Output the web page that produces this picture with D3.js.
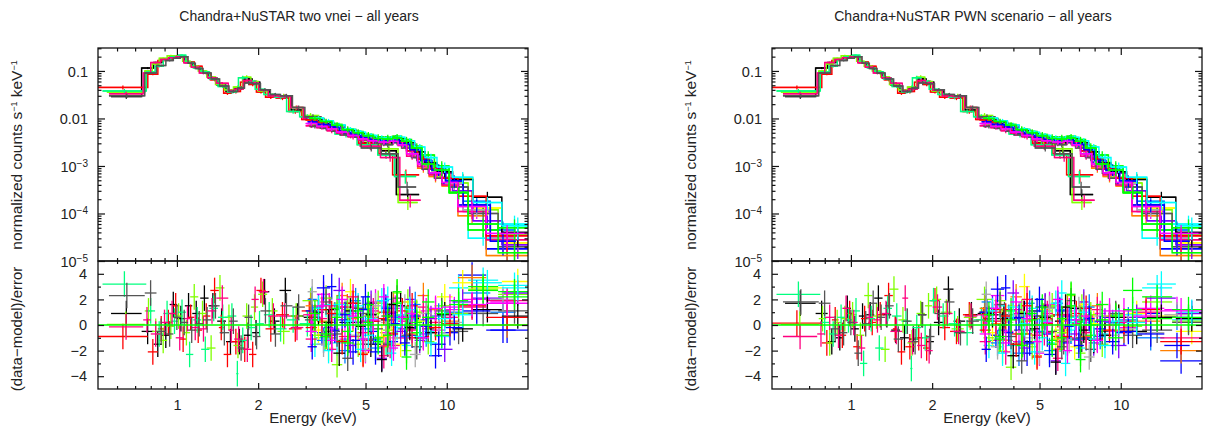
<!DOCTYPE html>
<html>
  <head>
    <meta charset="utf-8" />
    <script src="https://cdn.jsdelivr.net/npm/d3@7"></script>
    <style>
      html, body { margin: 0; background: #fff; }
      text { font-family: "Liberation Sans", Arial, sans-serif; fill: #222; }
    </style>
  </head>

  <body>
    <div id="container"></div>
  </body>
  <script>
    const titles = ["Chandra+NuSTAR two vnei \u2212 all years", "Chandra+NuSTAR PWN scenario \u2212 all years"];
    const xMajor = [1, 2, 5, 10];
    const xMinor = [0.6, 0.7, 0.8, 0.9, 3, 4, 6, 7, 8, 9];
    const fluxMajor = [0.1, 0.01, 1e-3, 1e-4, 1e-5];
    const fluxLabels = ["0.1", "0.01", "-3", "-4", "-5"];
    const resMajor = [-4, -2, 0, 2, 4];
    const resMinor = [-3, -1, 1, 3];

    const chandraColors = ["#000000", "#ff0000", "#7fff00", "#00ff7f", "#ff007f", "#555555"];
    const chandraEdges = [
      [0.57, 0.74, 0.82, 0.88, 0.94, 1.0, 1.07, 1.14, 1.22, 1.31, 1.41, 1.52, 1.64, 1.77, 1.9, 2.03, 2.2, 2.4, 2.65, 2.95, 3.4, 4.0, 4.8, 5.7, 6.5, 7.9],
      [0.51, 0.78, 0.85, 0.9, 0.96, 1.02, 1.09, 1.16, 1.24, 1.33, 1.43, 1.49, 1.59, 1.72, 1.85, 1.97, 2.13, 2.33, 2.6, 2.9, 3.3, 3.9, 4.7, 5.6, 6.3, 7.9],
      [0.55, 0.76, 0.81, 0.86, 0.92, 0.98, 1.05, 1.12, 1.2, 1.29, 1.39, 1.5, 1.62, 1.75, 1.88, 2.0, 2.16, 2.36, 2.62, 2.92, 3.35, 3.95, 4.75, 5.65, 6.6, 7.8],
      [0.53, 0.77, 0.83, 0.89, 0.95, 1.01, 1.08, 1.15, 1.23, 1.32, 1.42, 1.54, 1.66, 1.69, 1.82, 1.95, 2.1, 2.3, 2.55, 2.85, 3.25, 3.85, 4.65, 5.55, 6.4, 7.7],
      [0.56, 0.75, 0.8, 0.87, 0.93, 0.99, 1.06, 1.13, 1.21, 1.3, 1.4, 1.55, 1.63, 1.76, 1.89, 2.01, 2.18, 2.38, 2.64, 2.94, 3.38, 3.98, 4.78, 5.68, 6.7, 8.0],
      [0.56, 0.76, 0.84, 0.91, 0.97, 1.03, 1.1, 1.17, 1.25, 1.34, 1.44, 1.56, 1.68, 1.78, 1.91, 2.04, 2.22, 2.42, 2.68, 2.98, 3.42, 4.02, 4.82, 5.72, 6.6, 7.7],
    ];
    const chandraFlux = [
      [0.029, 0.115, 0.15, 0.18, 0.195, 0.21, 0.15, 0.12, 0.095, 0.07, 0.05, 0.037, 0.043, 0.068, 0.058, 0.04, 0.031, 0.029, 0.015, 0.0105, 0.0075, 0.0052, 0.0031, 0.0021, 0.00025],
      [0.045, 0.085, 0.165, 0.17, 0.2, 0.2, 0.155, 0.125, 0.09, 0.065, 0.054, 0.034, 0.037, 0.058, 0.052, 0.036, 0.028, 0.027, 0.014, 0.0095, 0.0066, 0.0048, 0.003, 0.0018, 0.00065],
      [0.036, 0.1, 0.14, 0.185, 0.21, 0.205, 0.16, 0.125, 0.1, 0.075, 0.052, 0.04, 0.046, 0.074, 0.06, 0.038, 0.031, 0.03, 0.017, 0.0115, 0.0078, 0.0054, 0.0034, 0.0023, 0.00017],
      [0.038, 0.095, 0.125, 0.17, 0.2, 0.215, 0.15, 0.115, 0.095, 0.068, 0.047, 0.036, 0.04, 0.072, 0.061, 0.041, 0.032, 0.028, 0.014, 0.0108, 0.007, 0.0047, 0.0028, 0.0017, 0.0006],
      [0.033, 0.09, 0.15, 0.175, 0.19, 0.2, 0.148, 0.12, 0.09, 0.072, 0.055, 0.038, 0.041, 0.063, 0.056, 0.039, 0.03, 0.029, 0.017, 0.01, 0.0068, 0.0049, 0.0026, 0.0015, 0.00019],
      [0.03, 0.09, 0.13, 0.165, 0.185, 0.2, 0.145, 0.112, 0.09, 0.068, 0.048, 0.037, 0.044, 0.056, 0.054, 0.04, 0.032, 0.03, 0.017, 0.0108, 0.0073, 0.0045, 0.0024, 0.0018, 0.00036],
    ];
    const chandraResL = [
      [0.9, -0.5, -1.5, -0.8, 1.6, 0.5, 1.5, 0.9, 2.1, 1.5, 0.3, -1.3, -1.3, -0.8, -0.6, 2.6, 0.3, 2.7, 0.7, 0.6, 1.2, 0.2, -1.5, 0.4, 0.5],
      [-0.9, -2.1, -0.3, 0.2, 1.5, -1.1, 0.6, -0.4, 0.7, 2.7, -0.2, -2.3, -1.3, -1.9, -2.3, 2.7, -0.3, 0.8, -0.3, 1.1, -0.8, 1.4, -1.2, 0.5, -1.0],
      [0.05, 1.1, -0.5, -1.2, -0.1, 0.7, -0.6, 2.2, 0.9, -1.8, 2.9, 0.6, -1.6, 0.7, 1.4, 2.4, 1.1, -0.5, 0.7, 1.9, 0.2, -1.2, 0.9, -0.6, 1.8],
      [3.2, 1.1, -0.7, 0.9, 0.3, 1.0, -2.3, 0.4, -1.9, 1.3, 0.6, 0.7, -3.8, -1.2, -0.2, 0.1, 0.8, -0.3, 0.4, 0.1, -1.0, 0.9, 1.3, -1.4, 0.5],
      [-0.15, 0.4, -0.7, 0.2, 0.9, -1.0, 0.5, -0.2, -0.3, 1.1, 2.1, -0.4, -1.1, -1.9, 2.0, 2.6, 0.7, 0.7, -0.2, 0.8, 1.5, -0.9, 0.3, -1.6, 0.6],
      [2.3, 2.5, -0.5, -0.7, 0.6, 0.2, -0.4, 0.1, 0.4, 1.5, -0.6, 0.3, -1.8, 0.6, -0.9, 1.1, -0.7, 1.5, 1.4, 0.4, -0.5, 1.7, -1.1, 0.7, -0.3],
    ];
    const chandraResR = [
      [1.7, 0.9, -1.3, -1.0, 1.3, -0.3, 0.7, 0.8, 2.1, 0.8, -0.4, -1.0, -1.1, 0.8, -1.3, 0.2, 2.8, 0.3, 0.8, 0.9, 0.5, -1.3, 0.7, 0.3, -1.1],
      [0.15, -1.4, 0.4, -0.8, 0.9, -1.7, 0.5, 0.2, 0.8, 2.3, -0.3, -2.1, -1.7, -1.0, -1.8, 1.9, -0.2, -0.5, 0.8, 0.4, 1.2, -0.7, 0.5, -0.9, 0.7],
      [0.05, 0.5, -1.4, 0.2, 0.5, 0.8, -0.8, 2.3, 0.7, -1.9, 2.8, 0.4, -1.4, 0.9, 1.5, 2.0, 1.0, -0.3, 0.6, 2.0, 0.3, -1.5, 0.7, -0.4, 1.4],
      [2.4, 0.2, -0.7, 0.6, 0.4, 1.1, -3.0, 0.5, -1.8, 1.3, 0.7, 0.3, -3.4, -0.2, -1.0, 1.9, 0.7, 0.1, -0.6, 0.4, -1.2, 0.8, 1.1, -1.1, 0.2],
      [-0.9, -0.7, 0.6, -0.8, 1.3, 0.2, -1.8, 0.6, 0.4, 0.9, -0.5, 2.1, -1.3, -1.6, -2.0, 1.4, 0.9, -0.5, 0.7, 0.8, -1.2, 0.9, -0.6, -1.0, 0.4],
      [1.8, 1.7, -0.3, -0.6, 0.2, -2.2, 0.1, 1.7, 0.6, 1.5, -1.1, 0.3, -1.3, 0.8, -0.9, 0.9, 1.8, -0.6, 0.3, 1.0, 0.8, -0.4, 1.4, -1.3, 0.4],
    ];
    const chandraRelErr = [0.1, 0.05, 0.05, 0.04, 0.04, 0.04, 0.05, 0.06, 0.06, 0.07, 0.07, 0.08, 0.09, 0.1, 0.08, 0.07, 0.08, 0.1, 0.1, 0.13, 0.15, 0.15, 0.16, 0.18, 0.3];

    const nustarColors = ["#0000ff", "#00ffff", "#ff00ff", "#ffff00", "#ff7f00", "#7fff00", "#007fff", "#7f00ff", "#ff007f", "#555555", "#aaaaaa", "#000000", "#ff0000", "#00ff00", "#0000ff", "#00ffff", "#ff00ff", "#00ff00"];
    const nustarEdges = [
      [3.0, 3.3, 3.6, 3.9, 4.3, 4.7, 5.1, 5.6, 6.1, 6.6, 7.1, 7.8, 8.6, 9.6, 11, 14, 20],
      [3.1, 3.4, 3.75, 4.1, 4.5, 4.9, 5.35, 5.8, 6.3, 6.8, 7.4, 8.1, 9.0, 10.2, 12, 15.5, 20.5],
      [3.05, 3.3, 3.7, 4.0, 4.4, 4.8, 5.2, 5.7, 6.2, 6.7, 7.3, 8.0, 8.8, 9.9, 11.5, 14.5, 18],
      [3.2, 3.5, 3.8, 4.2, 4.6, 5.0, 5.5, 6.0, 6.5, 7.0, 7.6, 8.3, 9.2, 10.5, 12.5, 16, 21],
    ];
    const nustarFlux = [
      [0.0095, 0.0082, 0.0066, 0.0058, 0.0049, 0.0041, 0.0037, 0.0034, 0.0037, 0.0031, 0.0021, 0.0012, 0.00072, 0.00042, 0.00015, 1.8e-5],
      [0.0098, 0.0084, 0.0072, 0.0056, 0.0051, 0.0044, 0.0038, 0.0037, 0.0039, 0.0029, 0.0022, 0.0015, 0.00092, 0.00036, 3.0e-5, 6e-5],
      [0.0072, 0.0065, 0.006, 0.0052, 0.0044, 0.0039, 0.0033, 0.0033, 0.0035, 0.0031, 0.0017, 0.00105, 0.0008, 0.00042, 0.00011, 3.2e-5],
      [0.0101, 0.0083, 0.0064, 0.0059, 0.0045, 0.004, 0.0035, 0.0038, 0.0033, 0.0027, 0.002, 0.0012, 0.00075, 0.00055, 0.00013, 2.4e-5],
      [0.0092, 0.0076, 0.0071, 0.0055, 0.0048, 0.0037, 0.0036, 0.0034, 0.0039, 0.003, 0.0018, 0.0009, 0.0006, 0.00038, 9e-5, 1.3e-5],
      [0.0075, 0.0069, 0.0057, 0.005, 0.0046, 0.0036, 0.0032, 0.003, 0.0033, 0.0026, 0.0016, 0.001, 0.00058, 0.00044, 0.00012, 3.6e-5],
      [0.0097, 0.0088, 0.0074, 0.006, 0.0052, 0.0044, 0.004, 0.0038, 0.004, 0.0034, 0.0024, 0.0013, 0.00088, 0.0005, 0.00018, 4.5e-5],
      [0.0082, 0.0072, 0.0064, 0.0053, 0.0045, 0.0038, 0.0034, 0.0032, 0.0035, 0.0028, 0.0017, 0.0011, 0.0007, 0.0003, 7e-5, 2.2e-5],
      [0.007, 0.0064, 0.0055, 0.0049, 0.0041, 0.0035, 0.0033, 0.003, 0.0032, 0.0027, 0.0016, 0.00098, 0.00065, 0.0004, 0.00011, 2.8e-5],
      [0.0068, 0.0062, 0.0054, 0.0047, 0.004, 0.0036, 0.0031, 0.0028, 0.0031, 0.0024, 0.0015, 0.00085, 0.00055, 0.00036, 0.0001, 2.0e-5],
      [0.0096, 0.0083, 0.0068, 0.0056, 0.0047, 0.004, 0.0036, 0.0035, 0.0036, 0.003, 0.0019, 0.0012, 0.00078, 0.00043, 0.00012, 3.0e-5],
      [0.0099, 0.0085, 0.0071, 0.0057, 0.0049, 0.0042, 0.0037, 0.0034, 0.0037, 0.0031, 0.002, 0.00115, 0.00076, 0.00052, 0.00022, 4e-5],
      [0.0094, 0.0084, 0.0065, 0.0055, 0.0046, 0.004, 0.0038, 0.0036, 0.0038, 0.0032, 0.0021, 0.0014, 0.00088, 0.00055, 0.00023, 3.4e-5],
      [0.0103, 0.009, 0.0075, 0.0061, 0.0053, 0.0046, 0.0041, 0.004, 0.0042, 0.0036, 0.0026, 0.0017, 0.001, 0.00027, 4.5e-5, 5e-5],
      [0.0085, 0.0075, 0.0066, 0.0054, 0.0047, 0.004, 0.0036, 0.0033, 0.0035, 0.0029, 0.0022, 0.0013, 0.00082, 0.00048, 0.00015, 2.6e-5],
      [0.0102, 0.0089, 0.0073, 0.0059, 0.0051, 0.0044, 0.0039, 0.0038, 0.004, 0.0034, 0.0025, 0.0015, 0.00095, 0.00058, 0.00017, 5.5e-5],
      [0.0078, 0.0068, 0.0061, 0.0052, 0.0044, 0.0037, 0.0034, 0.0032, 0.0033, 0.0028, 0.0018, 0.0011, 0.00072, 0.00045, 0.00014, 3.8e-5],
      [0.01, 0.0086, 0.0072, 0.0058, 0.005, 0.0043, 0.0038, 0.0037, 0.0039, 0.0033, 0.0024, 0.0011, 0.00082, 0.00028, 6e-5, 1.5e-5],
    ];
    const nustarResL = [
      [1.1, -0.6, 3.0, 0.4, -2.1, 1.2, -0.5, 1.9, -1.3, 0.7, -0.8, 0.4, -2.4, -0.6, 3.9, -0.4],
      [-1.5, 1.6, -1.4, 0.6, 1.5, -0.8, -1.2, 2.0, -0.2, -1.6, 0.4, -0.5, -0.9, 2.9, 3.5, 3.1],
      [0.8, 2.4, -0.3, -1.1, 0.9, -2.0, 1.8, -0.6, 1.3, -1.0, 0.8, 1.1, -0.4, 1.2, 2.0, 1.8],
      [-0.4, -1.8, 1.7, 2.6, -0.6, 1.4, -0.9, 0.5, -1.5, 1.8, 0.3, -0.2, 2.2, 3.3, 2.9, 3.4],
      [1.5, 0.3, -1.0, 2.3, 0.5, -2.2, 0.6, -1.7, 1.6, 0.8, -0.7, 2.3, 1.2, 0.3, 3.7, 0.0],
      [-0.8, 2.1, -3.1, 1.2, -1.5, 0.7, 1.7, -0.4, 2.5, -2.0, 1.0, -1.3, 1.5, 0.9, 2.8, 2.4],
      [2.0, -1.2, 0.8, -2.0, 1.9, -0.3, -1.8, 1.4, 0.6, -0.9, 1.6, -0.7, 0.7, 1.0, 2.5, 1.0],
      [1.4, -0.2, 2.7, -1.6, 0.2, 1.7, -2.6, 0.9, -0.5, 2.0, -1.2, 0.5, -1.9, 1.8, 2.1, 2.5],
      [-1.1, 0.5, -1.9, 1.4, 2.2, -0.6, 1.1, -2.4, 1.0, 0.3, -0.4, 1.4, 0.2, 0.6, 1.4, 1.9],
      [0.6, 1.8, -0.7, -2.6, 1.3, 0.9, -0.3, -1.5, 2.1, -0.8, -1.7, -0.3, 1.1, -0.5, 0.9, 1.1],
      [2.6, -1.5, 0.4, 1.0, -0.8, -1.9, 1.5, 0.2, -1.0, 1.4, -2.3, 0.9, -0.6, 0.2, 1.0, 2.0],
      [1.0, 0.2, -2.2, 1.1, -0.1, 0.8, -2.7, 1.6, 1.5, -0.2, -1.0, -0.6, 0.8, -0.3, 1.2, 0.7],
      [-0.2, 1.2, 0.9, -1.3, 1.7, -2.3, 0.3, 1.0, -0.7, 1.1, 1.5, -0.9, -0.2, 0.1, 1.5, 0.6],
      [0.4, -0.9, 1.3, -0.5, 0.6, 1.6, -1.0, -0.8, 2.6, 0.5, -0.6, 1.8, 0.9, 1.9, 3.0, 2.6],
      [-1.7, 2.9, -0.4, 0.8, -1.2, 2.2, -2.1, 1.3, 0.1, -1.4, 0.7, -0.1, -1.5, -0.2, 1.1, -0.4],
      [1.3, -2.0, 1.6, 0.3, -1.9, 0.5, 1.9, -2.2, 0.8, 1.2, -0.9, -1.4, 0.5, 0.8, 3.3, 2.9],
      [-0.5, 1.5, -1.2, 2.0, 0.7, -1.1, 0.4, 2.2, -1.8, 0.6, 0.9, -1.0, 1.3, 1.4, 1.6, 1.7],
      [0.9, -0.7, 0.6, -1.4, 1.1, 0.2, -1.3, 0.7, 1.7, -2.5, 0.2, 0.6, -0.8, 1.6, 2.7, 2.2],
    ];
    const nustarResR = [
      [1.0, -0.8, 2.9, 0.5, -2.2, 1.1, -0.7, 1.7, -1.4, 0.6, -1.0, 0.3, 0.6, -0.6, 0.9, -2.8],
      [-1.6, 1.5, -1.6, 0.4, 1.3, -1.0, -1.4, 2.5, -0.4, -1.8, 0.2, -0.7, 0.1, 0.8, 2.9, 0.4],
      [0.7, 2.3, -0.5, -1.3, 0.7, -2.2, 1.6, -0.8, 1.1, -1.2, 0.6, 0.9, -0.5, -0.2, 1.3, 1.2],
      [-0.6, -2.0, 1.5, 3.0, -0.8, 1.2, -1.1, 0.3, -1.7, 1.6, 0.1, -0.4, 0.6, 0.9, 0.7, -0.5],
      [1.3, 0.1, -1.2, 2.2, 0.3, -2.4, 0.4, -1.9, 1.4, 0.6, -0.9, 1.5, 0.7, -0.4, 0.3, -2.0],
      [-1.0, 1.9, -3.3, 1.0, -1.7, 0.5, 1.5, -0.6, 2.3, -2.2, 0.8, -1.5, 0.8, -0.1, 1.8, 0.3],
      [1.8, -1.4, 0.6, -2.2, 1.7, -0.5, -2.0, 1.2, 0.4, -1.1, 1.4, -0.9, 0.2, 0.4, -1.0, 0.6],
      [1.3, -0.4, 2.5, -1.8, 0.0, 1.5, -2.8, 0.7, -0.7, 1.8, -1.4, 0.3, -1.6, 0.6, 2.1, 0.9],
      [-1.3, 0.3, -2.1, 1.2, 2.0, -0.8, 0.9, -2.6, 0.8, 0.1, -0.6, 1.2, 0.0, 0.2, 1.0, -1.0],
      [0.5, 1.6, -0.9, -2.8, 1.1, 0.7, -0.5, -1.7, 1.9, -1.0, -1.9, -0.5, 0.9, -0.8, -0.4, 0.2],
      [2.4, -1.7, 0.2, 0.8, -1.0, -2.1, 1.3, 0.0, -1.2, 1.2, -2.5, 0.7, -0.8, -0.3, -0.6, 0.8],
      [0.8, 0.0, -2.4, 0.9, -0.3, 0.6, -2.9, 1.4, 1.3, -0.4, -1.2, -0.8, 0.6, -0.5, 0.6, 0.5],
      [-0.4, 1.0, 0.7, -1.5, 1.5, -2.5, 0.1, 0.8, -0.9, 0.9, 1.3, -1.1, -0.4, 0.3, 1.2, -1.3],
      [0.3, -1.1, 1.1, -0.7, 0.4, 1.4, -1.2, -1.0, 2.4, 0.3, -0.8, 1.6, 0.7, 2.7, 2.2, 1.2],
      [-1.9, 2.8, -0.6, 0.6, -1.4, 2.0, -2.3, 1.1, -0.1, -1.6, 0.5, -0.3, -1.3, -0.5, -0.7, -1.6],
      [1.1, -2.2, 1.4, 0.1, -2.1, 0.3, 1.7, -3.0, 0.6, 1.0, -1.1, -1.6, 0.3, 0.2, 3.2, 1.0],
      [-0.7, 1.3, -1.4, 1.8, 0.5, -1.3, 0.2, 2.0, -2.0, 0.4, 0.7, -1.2, 1.1, 1.1, 0.7, 1.1],
      [0.8, -0.9, 0.4, -1.6, 0.9, 0.0, -1.5, 0.5, 1.5, -2.7, 0.0, 0.4, -1.0, 1.2, 0.5, 0.6],
    ];
    const nustarRelErr = [0.1, 0.1, 0.11, 0.12, 0.12, 0.13, 0.13, 0.13, 0.12, 0.14, 0.16, 0.2, 0.25, 0.28, 0.3, 0.5];

    const plotW = 430, fluxH = 213, resH = 128, marginTop = 48, panelGap = 674;
    const W = 1209, H = 430, zeroColor = "#00ff00";

    const svg = d3
      .select("#container")
      .append("svg")
      .attr("width", W)
      .attr("height", H)
      .style("display", "block");

    // one set of tick marks on an edge of a plot
    function ticks(g, maker, scale, values, size, fmt) {
      return g
        .append("g")
        .call(maker(scale).tickValues(values).tickSize(size).tickFormat(fmt || (() => "")))
        .call((a) => a.select(".domain").remove())
        .call((a) => a.selectAll("line").attr("stroke", "#111").attr("stroke-width", 1.2));
    }

    function drawCrosses(g, xScale, yScale, edges, color, low, high, mid) {
      const bins = d3.range(edges.length - 1);
      const marks = g.append("g").attr("stroke", color).attr("stroke-width", 1.3).attr("fill", "none");
      marks
        .selectAll("line.h")
        .data(bins)
        .join("line")
        .attr("class", "h")
        .attr("x1", (i) => xScale(edges[i]))
        .attr("x2", (i) => xScale(edges[i + 1]))
        .attr("y1", (i) => yScale(mid(i)))
        .attr("y2", (i) => yScale(mid(i)));
      marks
        .selectAll("line.v")
        .data(bins)
        .join("line")
        .attr("class", "v")
        .attr("x1", (i) => xScale(Math.sqrt(edges[i] * edges[i + 1])))
        .attr("x2", (i) => xScale(Math.sqrt(edges[i] * edges[i + 1])))
        .attr("y1", (i) => yScale(low(i)))
        .attr("y2", (i) => yScale(high(i)));
    }

    function drawPanel(index, title, chandraRes, nustarRes) {
      const panel = svg.append("g").attr("transform", `translate(${98 + index * panelGap},${marginTop})`);

      const x = d3.scaleLog().domain([0.51, 20]).range([0, plotW]);
      const yFlux = d3.scaleLog().domain([1e-5, 0.304]).range([fluxH, 0]);
      const yRes = d3.scaleLinear().domain([-5, 5]).range([fluxH + resH, fluxH]);

      const defs = panel.append("defs");
      defs.append("clipPath").attr("id", `fluxClip${index}`).append("rect").attr("width", plotW).attr("height", fluxH);
      defs.append("clipPath").attr("id", `resClip${index}`).append("rect").attr("y", fluxH).attr("width", plotW).attr("height", resH);

      const fluxG = panel.append("g").attr("clip-path", `url(#fluxClip${index})`);
      const resG = panel.append("g").attr("clip-path", `url(#resClip${index})`);
      const stairs = d3.line().curve(d3.curveStepAfter);

      const drawGroup = (colors, edgeSets, flux, res, relErr) => {
        colors.forEach((color, s) => {
          const edges = edgeSets[s % edgeSets.length];
          const pts = edges.map((e, i) => [x(e), yFlux(flux[s][Math.min(i, flux[s].length - 1)])]);
          fluxG
            .append("path")
            .attr("d", stairs(pts))
            .attr("fill", "none")
            .attr("stroke", color)
            .attr("stroke-width", 1.5);
          drawCrosses(
            fluxG, x, yFlux, edges, color,
            (i) => flux[s][i] * (1 - relErr[i]),
            (i) => flux[s][i] * (1 + relErr[i]),
            (i) => flux[s][i]
          );
          // residual bars are one sigma by definition
          drawCrosses(resG, x, yRes, edges, color, (i) => res[s][i] - 1, (i) => res[s][i] + 1, (i) => res[s][i]);
        });
      };
      drawGroup(chandraColors, chandraEdges, chandraFlux, chandraRes, chandraRelErr);
      drawGroup(nustarColors, nustarEdges, nustarFlux, nustarRes, nustarRelErr);

      resG
        .append("line")
        .attr("x1", 0)
        .attr("x2", plotW)
        .attr("y1", yRes(0))
        .attr("y2", yRes(0))
        .attr("stroke", zeroColor)
        .attr("stroke-width", 1.3);

      // frames
      [[0, fluxH], [fluxH, resH]].forEach(([top, h]) => {
        panel
          .append("rect")
          .attr("y", top)
          .attr("width", plotW)
          .attr("height", h)
          .attr("fill", "none")
          .attr("stroke", "#111")
          .attr("stroke-width", 1.3);
      });

      // x ticks on all the horizontal edges
      const edge = (y) => panel.append("g").attr("transform", `translate(0,${y})`);
      ticks(edge(0), d3.axisBottom, x, xMajor, 7);
      ticks(edge(0), d3.axisBottom, x, xMinor, 3.5);
      ticks(edge(fluxH), d3.axisTop, x, xMajor, 6);
      ticks(edge(fluxH), d3.axisTop, x, xMinor, 3);
      ticks(edge(fluxH), d3.axisBottom, x, xMajor, 6);
      ticks(edge(fluxH), d3.axisBottom, x, xMinor, 3);
      ticks(edge(fluxH + resH), d3.axisTop, x, xMinor, 3);
      const xLab = ticks(edge(fluxH + resH), d3.axisTop, x, xMajor, 6, (d) => d);
      xLab.selectAll("text").attr("y", 21).attr("dy", 0).attr("font-size", 14.5).attr("text-anchor", "middle");

      // y ticks, left and right
      const fluxMinor = fluxMajor.slice(1).flatMap((d) => d3.range(2, 10).map((m) => m * d));
      fluxMinor.push(0.2, 0.3);
      const side = (xp) => panel.append("g").attr("transform", `translate(${xp},0)`);
      const fluxLab = ticks(side(0), d3.axisRight, yFlux, fluxMajor, 7, (d) => d);
      fluxLab.selectAll("text").each(function (d, i) {
        const t = d3.select(this).text(null).attr("x", -10).attr("dy", "0.36em").attr("font-size", 14.5).attr("text-anchor", "end");
        if (i < 2) t.text(fluxLabels[i]);
        else {
          t.append("tspan").text("10");
          t.append("tspan").attr("dy", -5).attr("font-size", 10).text(fluxLabels[i].replace("-", "\u2212"));
        }
      });
      ticks(side(0), d3.axisRight, yFlux, fluxMinor, 3.5);
      ticks(side(plotW), d3.axisLeft, yFlux, fluxMajor, 7);
      ticks(side(plotW), d3.axisLeft, yFlux, fluxMinor, 3.5);

      const resLab = ticks(side(0), d3.axisRight, yRes, resMajor, 6, (d) => (d < 0 ? "\u2212" + -d : d));
      resLab.selectAll("text").attr("x", -11).attr("font-size", 14.5).attr("text-anchor", "end");
      ticks(side(0), d3.axisRight, yRes, resMinor, 3);
      ticks(side(plotW), d3.axisLeft, yRes, resMajor, 6);
      ticks(side(plotW), d3.axisLeft, yRes, resMinor, 3);

      // labels
      panel
        .append("text")
        .attr("x", 201)
        .attr("y", -27)
        .attr("text-anchor", "middle")
        .attr("font-size", 14)
        .text(title);
      panel
        .append("text")
        .attr("x", plotW / 2)
        .attr("y", 375)
        .attr("text-anchor", "middle")
        .attr("font-size", 15)
        .text("Energy (keV)");

      const fluxTitle = panel
        .append("text")
        .attr("transform", `translate(-76,107) rotate(-90)`)
        .attr("text-anchor", "middle")
        .attr("font-size", 15.5);
      fluxTitle.append("tspan").text("normalized counts s");
      fluxTitle.append("tspan").attr("dy", -5).attr("font-size", 9).text("\u22121");
      fluxTitle.append("tspan").attr("dy", 5).text(" keV");
      fluxTitle.append("tspan").attr("dy", -5).attr("font-size", 9).text("\u22121");

      panel
        .append("text")
        .attr("transform", `translate(-76,281) rotate(-90)`)
        .attr("text-anchor", "middle")
        .attr("font-size", 15)
        .text("(data\u2212model)/error");
    }

    drawPanel(0, titles[0], chandraResL, nustarResL);
    drawPanel(1, titles[1], chandraResR, nustarResR);
  </script>
</html>
